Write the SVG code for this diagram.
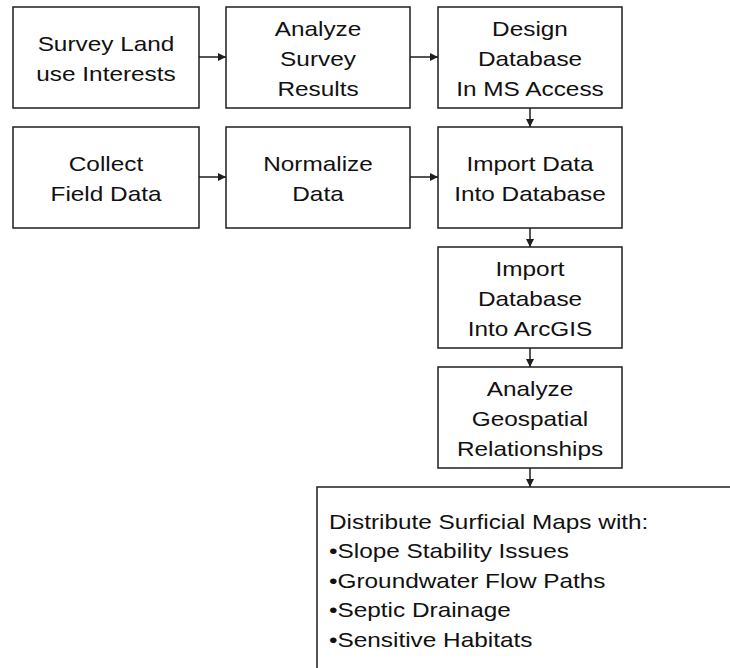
<svg xmlns="http://www.w3.org/2000/svg" width="730" height="668" viewBox="0 0 730 668">
<style>
.box{fill:#fff;stroke:#1e1e1e;stroke-width:1.5}
.t{font-family:"Liberation Sans",Arial,sans-serif;font-size:21px;fill:#111;text-anchor:middle}
.l{font-family:"Liberation Sans",Arial,sans-serif;font-size:21px;fill:#111;text-anchor:start}
.c{stroke:#1e1e1e;stroke-width:1.5;fill:none;marker-end:url(#ah)}
</style>
<defs>
<marker id="ah" viewBox="0 0 10 10" refX="10" refY="5" markerWidth="8" markerHeight="8" markerUnits="userSpaceOnUse" orient="auto">
<path d="M0,0 L10,5 L0,10 z" fill="#1e1e1e"/>
</marker>
</defs>
<rect width="730" height="668" fill="#fff"/>
<g id="connectors">
<line class="c" x1="199" y1="57" x2="226" y2="57"/>
<line class="c" x1="410" y1="57" x2="438" y2="57"/>
<line class="c" x1="199" y1="177" x2="226" y2="177"/>
<line class="c" x1="410" y1="177" x2="438" y2="177"/>
<line class="c" x1="530" y1="108" x2="530" y2="127"/>
<line class="c" x1="530" y1="228" x2="530" y2="247"/>
<line class="c" x1="530" y1="348" x2="530" y2="367"/>
<line class="c" x1="530" y1="468" x2="530" y2="487"/>
</g>
<g id="survey">
<rect class="box" x="13" y="7" width="186" height="101"/>
<g transform="translate(106 0) scale(1.16 1)"><text class="t" x="0" y="51">Survey Land</text><text class="t" x="0" y="81">use Interests</text></g>
</g>
<g id="analyze-survey">
<rect class="box" x="226" y="7" width="184" height="101"/>
<g transform="translate(318 0) scale(1.16 1)"><text class="t" x="0" y="36">Analyze</text><text class="t" x="0" y="66">Survey</text><text class="t" x="0" y="96">Results</text></g>
</g>
<g id="design-db">
<rect class="box" x="438" y="7" width="184" height="101"/>
<g transform="translate(530 0) scale(1.16 1)"><text class="t" x="0" y="36">Design</text><text class="t" x="0" y="66">Database</text><text class="t" x="0" y="96">In MS Access</text></g>
</g>
<g id="collect">
<rect class="box" x="13" y="127" width="186" height="101"/>
<g transform="translate(106 0) scale(1.16 1)"><text class="t" x="0" y="171">Collect</text><text class="t" x="0" y="201">Field Data</text></g>
</g>
<g id="normalize">
<rect class="box" x="226" y="127" width="184" height="101"/>
<g transform="translate(318 0) scale(1.16 1)"><text class="t" x="0" y="171">Normalize</text><text class="t" x="0" y="201">Data</text></g>
</g>
<g id="import-data">
<rect class="box" x="438" y="127" width="184" height="101"/>
<g transform="translate(530 0) scale(1.16 1)"><text class="t" x="0" y="171">Import Data</text><text class="t" x="0" y="201">Into Database</text></g>
</g>
<g id="import-arcgis">
<rect class="box" x="438" y="247" width="184" height="101"/>
<g transform="translate(530 0) scale(1.16 1)"><text class="t" x="0" y="276">Import</text><text class="t" x="0" y="306">Database</text><text class="t" x="0" y="336">Into ArcGIS</text></g>
</g>
<g id="analyze-geo">
<rect class="box" x="438" y="367" width="184" height="101"/>
<g transform="translate(530 0) scale(1.16 1)"><text class="t" x="0" y="396">Analyze</text><text class="t" x="0" y="426">Geospatial</text><text class="t" x="0" y="456">Relationships</text></g>
</g>
<g id="distribute">
<rect class="box" x="317" y="487" width="440" height="220"/>
<g transform="translate(329 0) scale(1.16 1)">
<text class="l" x="0" y="529">Distribute Surficial Maps with:</text>
<text class="l" x="0" y="558.5">•Slope Stability Issues</text>
<text class="l" x="0" y="588">•Groundwater Flow Paths</text>
<text class="l" x="0" y="617.5">•Septic Drainage</text>
<text class="l" x="0" y="647">•Sensitive Habitats</text>
</g>
</g>
</svg>
